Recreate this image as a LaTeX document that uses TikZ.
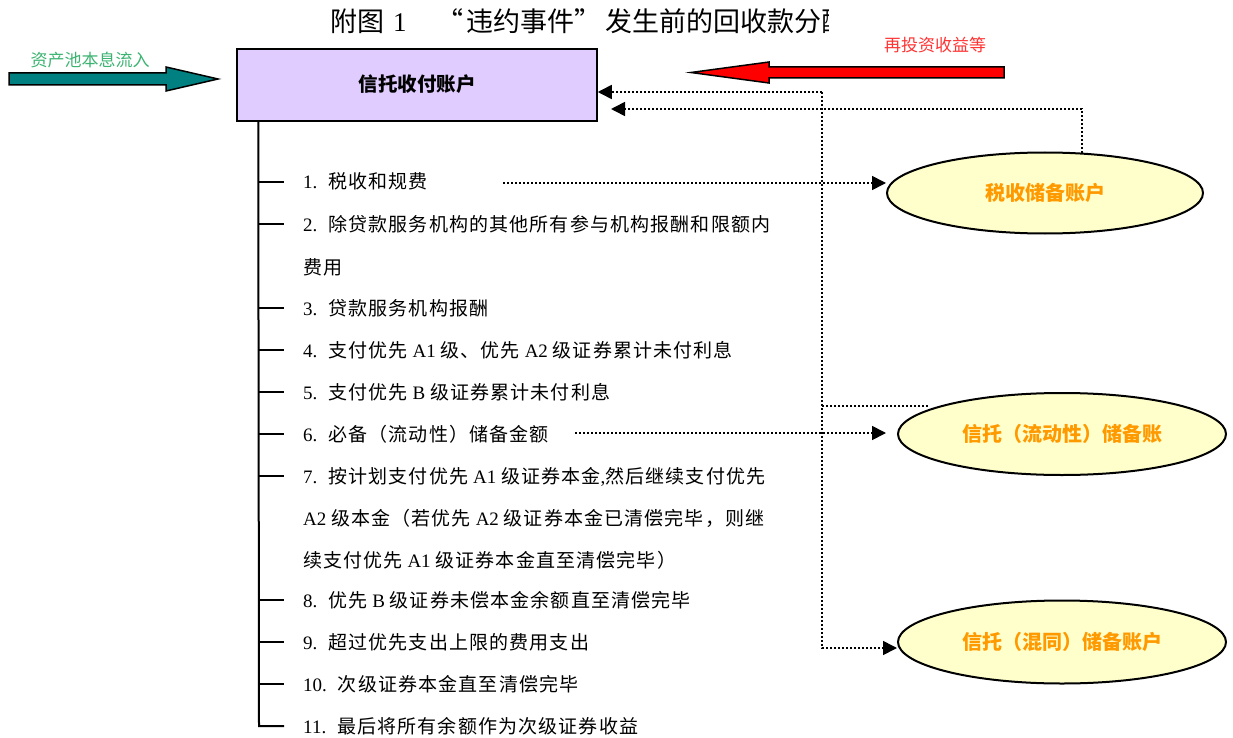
\documentclass[tikz,border=0pt]{standalone}
\usepackage{fontspec}
\setmainfont{Noto Sans CJK SC}
\newfontfamily\listcjk{Noto Sans CJK SC}[LetterSpace=6]
\newfontfamily\lat{Liberation Serif}
\usetikzlibrary{shapes.geometric,arrows.meta}
\definecolor{boxfill}{RGB}{224,204,255}
\definecolor{ellfill}{RGB}{255,255,204}
\definecolor{orangetxt}{RGB}{255,153,0}
\definecolor{greentxt}{RGB}{60,179,113}
\definecolor{redtxt}{RGB}{255,51,51}
\definecolor{tealarrow}{RGB}{0,128,128}
\newcommand\en[1]{{\lat#1}}
\newcommand\numb[1]{{\lat#1}\hskip 11pt}
\begin{document}
\begin{tikzpicture}[x=1pt,y=-1pt,
  listitem/.style={anchor=base west,inner sep=0pt,font=\listcjk\fontsize{19}{22}\selectfont},
  acctbox/.style={draw=black,line width=1.5pt,fill=boxfill,minimum width=360pt,minimum height=72pt,inner sep=0pt,font=\fontsize{19.5}{22}\selectfont\bfseries},
  resell/.style={ellipse,draw=black,line width=2pt,fill=ellfill,inner sep=0pt,text=orangetxt,font=\fontsize{20}{22}\selectfont\bfseries},
  dotl/.style={line width=1.6pt,dash pattern=on 1.6pt off 2.4pt},
  tip/.style={-{Triangle[length=14pt,width=14pt]}},
  tree/.style={line width=2pt},
  blockarrow/.style={draw=black,line width=1.5pt,line join=miter}]
\useasboundingbox (0,0) rectangle (1233,738);

% title (cut off at the right as in the reference)
\begin{scope}
  \clip (0,0) rectangle (828,50);
  \node[anchor=base west,inner sep=0pt,font=\fontsize{27}{30}\selectfont] (title) at (330,32)
    {附图\hskip 9pt\en{1}\hskip 30pt“\hskip 3pt违约事件”\hskip 4pt发生前的回收款分配};
\end{scope}

% main account box
\node[acctbox] (acct) at (417,85) {\raisebox{3pt}{信托收付账户}};

% reserve accounts
\node[resell,minimum width=316pt,minimum height=81pt] (tax) at (1045,193) {税收储备账户};
\node[resell,minimum width=328pt,minimum height=82pt] (liq) at (1062,434) {信托（流动性）储备账};
\node[resell,minimum width=328pt,minimum height=83pt] (mix) at (1062,642) {信托（混同）储备账户};

% block arrows
\filldraw[blockarrow,fill=tealarrow] (9,73) -- (166,73) -- (166,67) -- (218,79) -- (166,91) -- (166,85) -- (9,85) -- cycle;
\node[text=greentxt,font=\fontsize{17}{20}\selectfont,inner sep=0pt] (inlab) at (90,60) {资产池本息流入};
\filldraw[blockarrow,fill=red] (1004,67) -- (769,67) -- (769,62) -- (691,72.5) -- (769,83) -- (769,78) -- (1004,78) -- cycle;
\node[text=redtxt,font=\fontsize{17}{20}\selectfont,inner sep=0pt] (relab) at (935,45) {再投资收益等};

% list of payments
\node[listitem] (i1) at (303,189) {\numb{1.}税收和规费};
\node[listitem] (i2) at (303,231) {\numb{2.}除贷款服务机构的其他所有参与机构报酬和限额内};
\node[listitem] (i2b) at (303,274) {费用};
\node[listitem] (i3) at (303,315) {\numb{3.}贷款服务机构报酬};
\node[listitem] (i4) at (303,357) {\numb{4.}支付优先\en{ A1 }级、优先\en{ A2 }级证券累计未付利息};
\node[listitem] (i5) at (303,399) {\numb{5.}支付优先\en{ B }级证券累计未付利息};
\node[listitem] (i6) at (303,441) {\numb{6.}必备（流动性）储备金额};
\node[listitem] (i7) at (303,483) {\numb{7.}按计划支付优先\en{ A1 }级证券本金\en{,}然后继续支付优先};
\node[listitem] (i7b) at (303,525) {\en{A2 }级本金（若优先\en{ A2 }级证券本金已清偿完毕，则继};
\node[listitem] (i7c) at (303,567) {续支付优先\en{ A1 }级证券本金直至清偿完毕）};
\node[listitem] (i8) at (303,607) {\numb{8.}优先\en{ B }级证券未偿本金余额直至清偿完毕};
\node[listitem] (i9) at (303,649) {\numb{9.}超过优先支出上限的费用支出};
\node[listitem] (i10) at (303,691) {\numb{10.}次级证券本金直至清偿完毕};
\node[listitem] (i11) at (303,733) {\numb{11.}最后将所有余额作为次级证券收益};

% tree
\coordinate (t0) at ([xshift=22pt]acct.south west);
\coordinate (tend) at (259,726);
\draw[tree] (t0) -- (tend) -- ++(25,0);
\foreach \yy in {182,224,308,350,392,434,476,600,642,684}
  \draw[tree] (259,\yy) -- ++(25,0);

% dotted connectors
\coordinate (v1) at (822,92);
\coordinate (v2) at (822,648);
\draw[dotl,tip] (v1) -- (v1 -| acct.east);
\draw[dotl,tip] (v1) -- (v2) -- (v2 -| mix.west);
\coordinate (d1) at (928,406);
\draw[dotl] (d1) -- (d1 -| v1);
\coordinate (b1) at (1082,153);
\coordinate (b2) at (611,109);
\draw[dotl,tip] (b1) |- (b2);
\coordinate (c1) at (503,183);
\draw[dotl,tip] (c1) -- (c1 -| tax.west);
\coordinate (c6) at (575,433);
\draw[dotl,tip,shorten >=11pt] (c6) -- (c6 -| liq.west);
\end{tikzpicture}
\end{document}
